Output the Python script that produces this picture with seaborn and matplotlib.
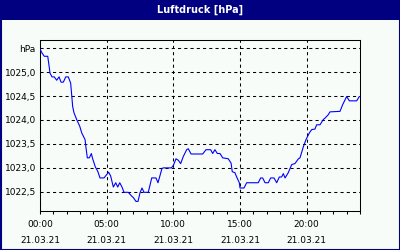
import matplotlib
matplotlib.use("Agg")
import matplotlib.pyplot as plt
from matplotlib.patches import Rectangle
from matplotlib.ticker import MultipleLocator, FixedLocator, FixedFormatter
import seaborn as sns
import pandas as pd

title = "Luftdruck [hPa]"
hours = [0.0, 0.15, 0.32, 0.58, 0.68, 0.75, 0.9, 1.07, 1.25, 1.43, 1.58, 1.75, 1.93, 2.12,
         2.3, 2.45, 2.55, 2.75, 2.98, 3.13, 3.38, 3.45, 3.55, 3.7, 3.85, 3.95, 4.15, 4.33,
         4.5, 4.8, 5.0, 5.15, 5.3, 5.5, 5.68, 5.83, 5.98, 6.15, 6.3, 6.62, 6.88, 7.0, 7.2,
         7.35, 7.5, 7.65, 7.8, 8.12, 8.38, 8.7, 8.85, 9.15, 9.25, 9.85, 10.0, 10.2, 10.37,
         10.55, 10.75, 11.0, 11.12, 11.33, 12.2, 12.45, 12.8, 12.95, 13.12, 13.3, 13.5,
         13.7, 14.12, 14.33, 14.42, 14.62, 14.75, 14.95, 15.0, 15.3, 15.5, 16.37, 16.55,
         16.7, 16.88, 17.12, 17.3, 17.55, 17.75, 17.95, 18.12, 18.25, 18.38, 18.62, 18.88,
         19.12, 19.38, 19.5, 19.75, 19.95, 20.2, 20.38, 20.62, 20.75, 21.0, 21.25, 21.38,
         21.62, 21.75, 22.5, 22.7, 23.0, 23.2, 23.75, 23.95]
pressure = [1025.48, 1025.40, 1025.33, 1025.33, 1025.13, 1024.98, 1024.90, 1024.90, 1024.83,
            1024.90, 1024.79, 1024.79, 1024.90, 1024.90, 1024.77, 1024.28, 1024.15, 1024.01,
            1023.87, 1023.73, 1023.59, 1023.42, 1023.21, 1023.21, 1023.30, 1023.19, 1023.02,
            1022.93, 1022.79, 1022.79, 1022.86, 1022.91, 1022.83, 1022.60, 1022.69, 1022.60,
            1022.69, 1022.60, 1022.49, 1022.49, 1022.41, 1022.38, 1022.30, 1022.30, 1022.48,
            1022.58, 1022.49, 1022.49, 1022.79, 1022.79, 1022.69, 1022.99, 1023.00, 1023.00,
            1023.05, 1023.19, 1023.16, 1023.09, 1023.24, 1023.38, 1023.40, 1023.29, 1023.29,
            1023.38, 1023.38, 1023.30, 1023.38, 1023.30, 1023.30, 1023.21, 1023.19, 1023.10,
            1022.92, 1022.90, 1022.81, 1022.69, 1022.58, 1022.58, 1022.69, 1022.69, 1022.79,
            1022.79, 1022.69, 1022.69, 1022.79, 1022.79, 1022.69, 1022.81, 1022.81, 1022.88,
            1022.79, 1022.90, 1023.07, 1023.09, 1023.19, 1023.21, 1023.44, 1023.59, 1023.73,
            1023.80, 1023.81, 1023.90, 1023.90, 1024.01, 1024.04, 1024.11, 1024.17, 1024.18,
            1024.32, 1024.49, 1024.40, 1024.40, 1024.49]
x_tick_hours = [0, 5, 10, 15, 20]
x_tick_times = ["00:00", "05:00", "10:00", "15:00", "20:00"]
date_label = "21.03.21"
y_tick_values = [1022.5, 1023.0, 1023.5, 1024.0, 1024.5, 1025.0, 1025.5]
y_tick_labels = ["1022,5", "1023,0", "1023,5", "1024,0", "1024,5", "1025,0", "hPa"]

df = pd.DataFrame({"h": hours, "p": pressure})

sns.set_style("white")
plt.rcParams["font.family"] = ["DejaVu Sans"]

bg = "#F8FCF8"
navy = "#000080"
fig = plt.figure(figsize=(4, 2.5), dpi=100, facecolor=bg)
ax = fig.add_axes([0.1, 1 - 211 / 250, 0.8, 171 / 250])
ax.set_facecolor(bg)

sns.lineplot(data=df, x="h", y="p", ax=ax, color="#0000FF", linewidth=0.8, zorder=3)

ax.set_xlim(0, 24)
ax.set_ylim(1022.1, 1025.67)

ax.xaxis.set_major_locator(FixedLocator(x_tick_hours))
ax.xaxis.set_major_formatter(FixedFormatter([f"{t}\n\n{date_label}" for t in x_tick_times]))
ax.xaxis.set_minor_locator(MultipleLocator(1))
ax.yaxis.set_major_locator(FixedLocator(y_tick_values))
ax.yaxis.set_major_formatter(FixedFormatter(y_tick_labels))

ax.tick_params(axis="x", which="both", direction="out", length=2.2, width=0.75,
               color="black", labelsize=6.5, labelcolor="black", pad=4, bottom=True)
ax.tick_params(axis="y", which="both", length=0, labelsize=6.5, labelcolor="black",
               pad=3, left=True)
for lab in ax.get_xticklabels():
    lab.set_linespacing(0.85)

ax.grid(True, which="major", color="black", linewidth=0.75, linestyle=(0, (3, 3)))
ax.set_xlabel("")
ax.set_ylabel("")
for s in ax.spines.values():
    s.set_visible(True)
    s.set_color("black")
    s.set_linewidth(0.75)

# title bar and outer frame
fig.add_artist(Rectangle((0, 1 - 20 / 250), 1, 20 / 250, transform=fig.transFigure,
                         facecolor=navy, edgecolor="none", zorder=0))
fig.add_artist(Rectangle((0.5 / 400, 0.5 / 250), 399 / 400, 249 / 250,
                         transform=fig.transFigure, facecolor="none",
                         edgecolor=navy, linewidth=1.5, zorder=5))
fig.text(0.5, 1 - 10 / 250, title, color="white", fontsize=7, fontweight="bold",
         ha="center", va="center")

fig.savefig("out.png", dpi=100, facecolor=bg)
